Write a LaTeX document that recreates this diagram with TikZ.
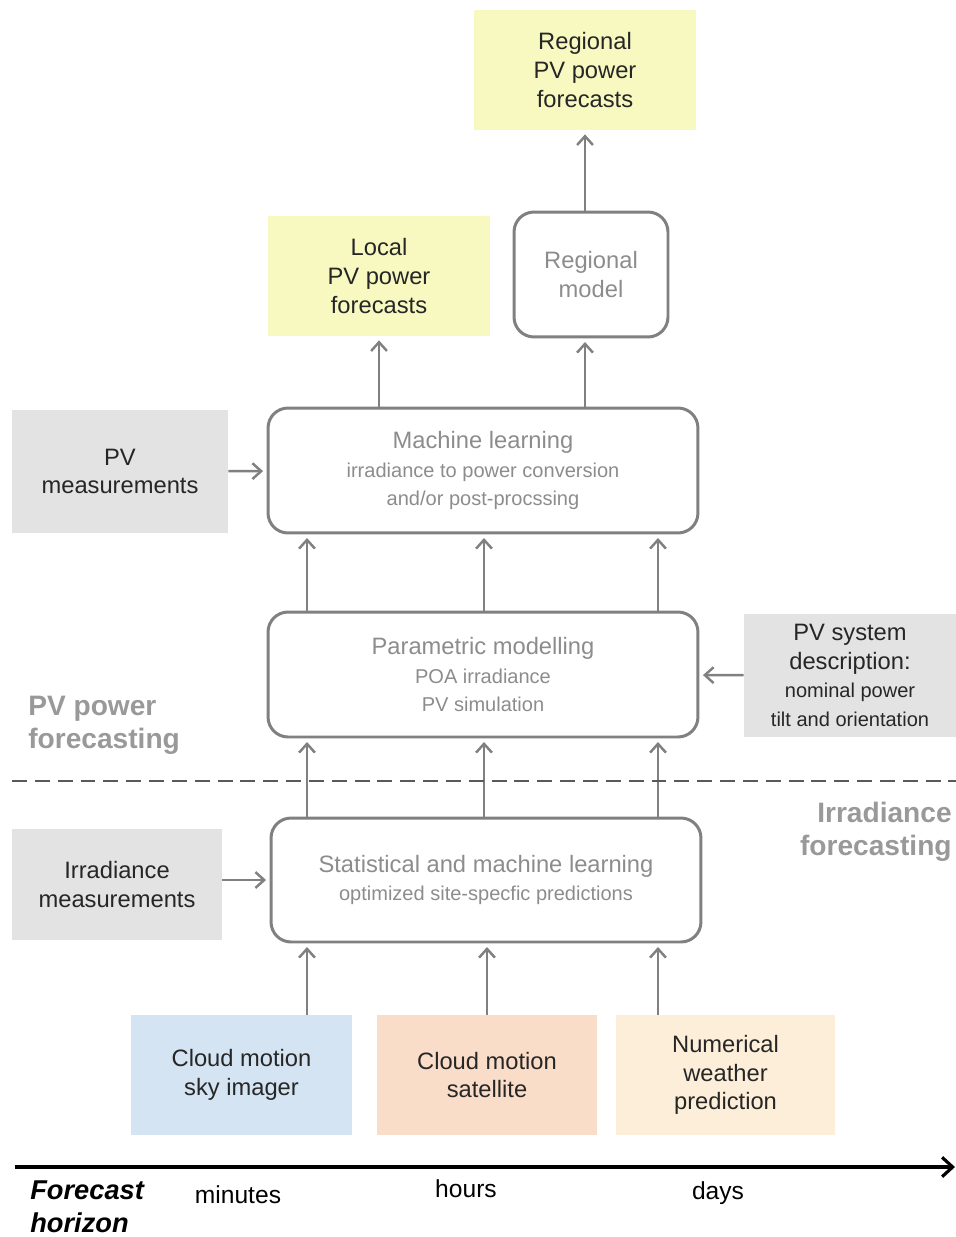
\documentclass[tikz,border=0pt]{standalone}
\usepackage{fontspec}
\setmainfont{Liberation Sans}
\usetikzlibrary{arrows.meta}
\definecolor{outyellow}{HTML}{F7F9C0}
\definecolor{ingray}{HTML}{E3E3E3}
\definecolor{skyblue}{HTML}{D5E4F3}
\definecolor{satpeach}{HTML}{FADDC8}
\definecolor{nwpcream}{HTML}{FDEED9}
\newcommand{\smalltxt}[1]{{\fontsize{11.4}{13.6}\selectfont #1}}

\begin{document}
\begin{tikzpicture}[x=0.02cm,y=-0.02cm,
    every node/.style={align=center,inner sep=0pt,font=\fontsize{13.5}{16.4}\selectfont},
    result/.style={fill=outyellow,text=black!85,minimum width=4.44cm,minimum height=2.42cm},
    input/.style={fill=ingray,text=black!85,minimum height=2.46cm},
    source/.style={text=black!85,minimum width=4.42cm,minimum height=2.4cm},
    model/.style={draw=black!50,line width=1.7pt,rounded corners=0.4cm,text=black!45,minimum height=2.5cm},
    flow/.style={draw=black!50,line width=1.4pt,-{Straight Barb[length=5pt,width=9pt]},shorten >=2pt},
    side/.style={font=\bfseries\fontsize{16}{18.7}\selectfont,text=black!40}]
			\useasboundingbox (0,0) rectangle (956,1237);
			% columns of the vertical arrows
			\coordinate (cA) at (307,0); \coordinate (cB) at (484,0); \coordinate (cC) at (658,0);
			\coordinate (cR) at (585,0);
			% outputs
			\node[result] (regfc) at (585,70) {Regional\\PV power\\forecasts};
			\node[result] (localfc) at (379,276) {Local\\PV power\\forecasts};
			\node[model,minimum width=3.08cm] (regmodel) at (591,274.5) {Regional\\model};
			% models
			\node[model,minimum width=8.6cm] (ml) at (483,470.5)
				{Machine learning\\\smalltxt{irradiance to power conversion}\\\smalltxt{and/or post-procssing}};
			\node[model,minimum width=8.6cm] (param) at (483,674.5)
				{Parametric modelling\\\smalltxt{POA irradiance}\\\smalltxt{PV simulation}};
			\node[model,minimum width=8.6cm,minimum height=2.48cm] (stat) at (486,880)
				{Statistical and machine learning\\\smalltxt{optimized site-specfic predictions}};
			% measurements and descriptions
			\node[input,minimum width=4.32cm] (pvmeas) at (120,471.5) {PV\\measurements};
			\node[input,minimum width=4.24cm] (pvsys) at (850,675.5)
				{PV system\\description:\\\smalltxt{nominal power}\\\smalltxt{tilt and orientation}};
			\node[input,minimum width=4.2cm,minimum height=2.22cm] (irrmeas) at (117,884.5) {Irradiance\\measurements};
			% irradiance sources
			\node[source,fill=skyblue] (sky) at (241.5,1075) {Cloud motion\\sky imager};
			\node[source,fill=satpeach] (sat) at (487,1075) {Cloud motion\\satellite};
			\node[source,fill=nwpcream,minimum width=4.38cm] (nwp) at (725.5,1075) {Numerical\\weather\\prediction};
			% arrows
			\draw[flow] (cR |- regmodel.north) -- (cR |- regfc.south);
			\draw[flow] (localfc |- ml.north) -- (localfc);
			\draw[flow] (cR |- ml.north) -- (cR |- regmodel.south);
			\draw[flow] (pvmeas) -- (ml);
			\draw[flow] (pvsys) -- (param);
			\draw[flow] (irrmeas.east |- stat) -- (stat);
			\foreach \c in {cA,cB,cC}{
				\draw[flow] (\c |- param.north) -- (\c |- ml.south);
				\draw[flow] (\c |- stat.north) -- (\c |- param.south);
			}
			\draw[flow] (cA |- sky.north) -- (cA |- stat.south);
			\draw[flow] (sat) -- (sat |- stat.south);
			\draw[flow] (cC |- nwp.north) -- (cC |- stat.south);
			% split between the two parts
			\coordinate (splitL) at (12,781); \coordinate (splitR) at (956,781);
			\draw[black!65,line width=1.3pt,dash pattern=on 8.5pt off 4.5pt] (splitL) -- (splitR);
			\node[side,align=left,anchor=west] (pvlabel) at (28,725) {PV power\\forecasting};
			\node[side,align=right,anchor=east] (irrlabel) at (952,832) {Irradiance\\forecasting};
			% horizon axis
			\coordinate (axL) at (15,1167); \coordinate (axR) at (955,1167);
			\draw[line width=1.8pt,-{Straight Barb[length=6pt,width=11pt]}] (axL) -- (axR);
			\node[align=left,anchor=west,font=\bfseries\itshape\fontsize{15.5}{18.7}\selectfont] (horizon) at (30,1207) {Forecast\\horizon};
			\node[font=\fontsize{14}{17}\selectfont] (tmin) at (238,1195) {minutes};
			\node[font=\fontsize{14}{17}\selectfont] (thours) at (466,1189) {hours};
			\node[font=\fontsize{14}{17}\selectfont] (tdays) at (718,1193) {days};
		\end{tikzpicture}
\end{document}
